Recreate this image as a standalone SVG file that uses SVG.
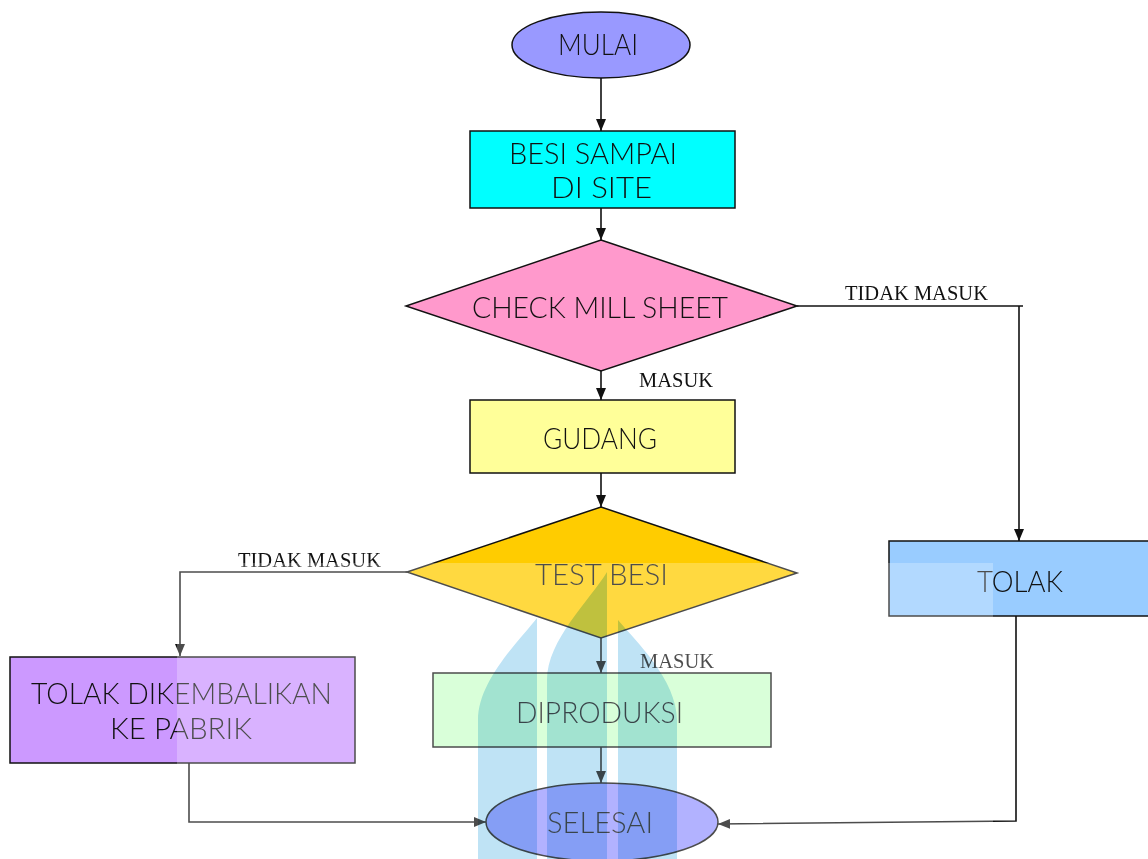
<svg xmlns="http://www.w3.org/2000/svg" width="1148" height="859" viewBox="0 0 1148 859">
<style>
.n{stroke:#111;stroke-width:1.5}
.t{font-family:Lato,"Open Sans","Liberation Sans",sans-serif;font-weight:300;font-size:30px;fill:#111}
.l{font-family:"Liberation Serif",serif;font-size:20.5px;fill:#111}
.c{fill:none;stroke:#111;stroke-width:1.6}
.flame{fill:#BFE3F5;mix-blend-mode:multiply}
</style>
<defs>
<marker id="ah" markerUnits="userSpaceOnUse" markerWidth="13" markerHeight="11" refX="12" refY="5" orient="auto">
<path d="M0,0 L12,5 L0,10 z" fill="#111"/>
</marker>
</defs>
<rect width="1148" height="859" fill="#fff"/>
<g id="connectors">
<path class="c" d="M601,77 V131" marker-end="url(#ah)"/>
<path class="c" d="M601,208 V240" marker-end="url(#ah)"/>
<path class="c" d="M601,371 V400" marker-end="url(#ah)"/>
<path class="c" d="M601,473 V507" marker-end="url(#ah)"/>
<path class="c" d="M601,638 V673" marker-end="url(#ah)"/>
<path class="c" d="M601,747 V783" marker-end="url(#ah)"/>
<path class="c" d="M797,306 H1023"/>
<path class="c" d="M1019,306 V541" marker-end="url(#ah)"/>
<path class="c" d="M407,572 H180 V656" marker-end="url(#ah)"/>
<path class="c" d="M189,763 V822 H486" marker-end="url(#ah)"/>
<path class="c" d="M1016,616 V821 L718,824" marker-end="url(#ah)"/>
<text class="l" x="845" y="300">TIDAK MASUK</text>
<text class="l" x="238" y="567">TIDAK MASUK</text>
<text class="l" x="639" y="387">MASUK</text>
<text class="l" x="640" y="668">MASUK</text>
</g>
<g id="mulai">
<ellipse class="n" cx="601" cy="45" rx="89" ry="33" fill="#9999FF"/>
<text class="t" x="558" y="55" textLength="80" lengthAdjust="spacingAndGlyphs">MULAI</text>
</g>
<g id="besi-sampai">
<rect class="n" x="470" y="131" width="265" height="77" fill="#00FFFF"/>
<text class="t" x="509" y="164" textLength="168" lengthAdjust="spacingAndGlyphs">BESI SAMPAI</text>
<text class="t" x="551" y="198" textLength="101" lengthAdjust="spacingAndGlyphs">DI SITE</text>
</g>
<g id="check-mill-sheet">
<polygon class="n" points="601,240 797,306 601,371 406,306" fill="#FF99CC"/>
<text class="t" x="472" y="318" textLength="256" lengthAdjust="spacingAndGlyphs">CHECK MILL SHEET</text>
</g>
<g id="gudang">
<rect class="n" x="470" y="400" width="265" height="73" fill="#FFFF99"/>
<text class="t" x="543" y="449" textLength="114" lengthAdjust="spacingAndGlyphs">GUDANG</text>
</g>
<g id="test-besi">
<polygon class="n" points="601,507 797,573 601,638 407,572" fill="#FFCC00"/>
<text class="t" x="535" y="585" textLength="133" lengthAdjust="spacingAndGlyphs">TEST BESI</text>
</g>
<g id="tolak">
<rect class="n" x="889" y="541" width="262" height="75" fill="#99CCFF"/>
<text class="t" x="977" y="592" textLength="86" lengthAdjust="spacingAndGlyphs">TOLAK</text>
</g>
<g id="tolak-dikembalikan">
<rect class="n" x="10" y="657" width="345" height="106" fill="#CC99FF"/>
<text class="t" x="31" y="704" textLength="301" lengthAdjust="spacingAndGlyphs">TOLAK DIKEMBALIKAN</text>
<text class="t" x="110" y="739" textLength="142" lengthAdjust="spacingAndGlyphs">KE PABRIK</text>
</g>
<g id="diproduksi">
<rect class="n" x="433" y="673" width="338" height="74" fill="#CCFFCC"/>
<text class="t" x="516" y="723" textLength="167" lengthAdjust="spacingAndGlyphs">DIPRODUKSI</text>
</g>
<g id="selesai">
<ellipse class="n" cx="602" cy="822" rx="116" ry="39" fill="#9999FF"/>
<text class="t" x="547" y="833" textLength="106" lengthAdjust="spacingAndGlyphs">SELESAI</text>
</g>
<g id="watermark">
<rect x="177" y="563" width="816" height="296" fill="#fff" opacity="0.25"/>
<path class="flame" d="M537,618 C520,640 478,680 478,720 L478,859 L537,859 Z"/>
<path class="flame" d="M607,572 C590,600 547,640 547,680 L547,859 L607,859 Z"/>
<path class="flame" d="M618,620 C635,640 677,680 677,720 L677,859 L618,859 Z"/>
</g>
</svg>
